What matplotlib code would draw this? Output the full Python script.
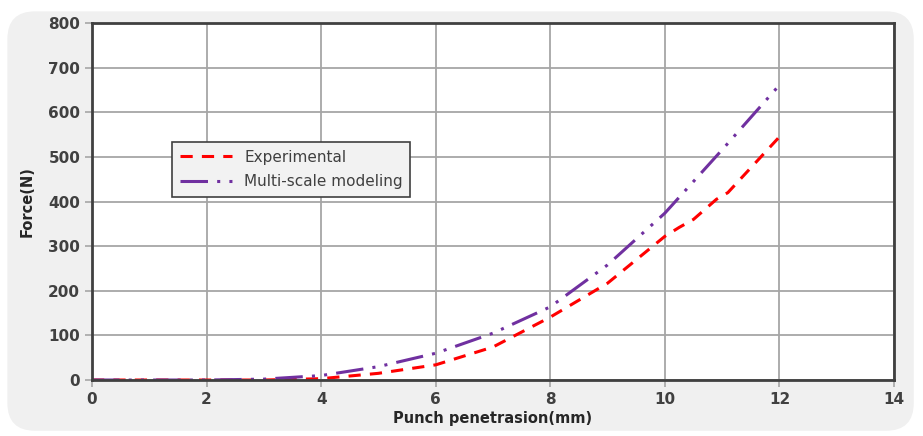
import matplotlib.pyplot as plt
from matplotlib.patches import FancyBboxPatch
import numpy as np

# data
x_exp = [0, 1, 2, 3, 4, 5, 6, 7, 8, 9, 10, 10.25, 10.5, 10.9, 11.1, 12]
f_exp = [0, 0, 0, 0, 3, 15, 34, 74, 141, 217, 322, 342, 360, 405, 420, 545]
x_mod = [0, 1, 2, 3, 4, 5, 6, 7, 8, 9, 10, 11, 12]
f_mod = [0, 0, 0, 2, 10, 30, 60, 105, 164, 258, 374, 516, 661]

x_ticks = np.arange(0, 15, 2)
y_ticks = np.arange(0, 801, 100)

fig = plt.figure(figsize=(9.23, 4.36), dpi=100)
fig.patch.set_facecolor('white')

# rounded grey panel behind the chart
panel = FancyBboxPatch((0.008, 0.012), 0.982, 0.962, boxstyle='round,pad=0,rounding_size=0.03',
                       transform=fig.transFigure, facecolor='#f0f0f0', edgecolor='none',
                       zorder=-10, mutation_aspect=923 / 436)
fig.patches.append(panel)

ax = fig.add_axes([0.0997, 0.1284, 0.8689, 0.8188])
ax.set_facecolor('white')

ax.plot(x_exp, f_exp, color='#ff0000', lw=2.2, dashes=(4, 3), label='Experimental')
ax.plot(x_mod, f_mod, color='#7030a0', lw=2.2, dashes=(9, 3, 1, 3, 1, 3), label='Multi-scale modeling')

ax.set_xlim(0, 14)
ax.set_ylim(0, 800)
ax.set_xticks(x_ticks)
ax.set_yticks(y_ticks)
ax.grid(True, color='#a6a6a6', lw=1.3)
ax.set_axisbelow(True)

for s in ax.spines.values():
    s.set_color('#404040')
    s.set_linewidth(2)

ax.tick_params(axis='both', colors='#a6a6a6', labelcolor='#404040', labelsize=11, length=5, width=1.2)
for lab in ax.get_xticklabels() + ax.get_yticklabels():
    lab.set_fontweight('bold')

ax.set_xlabel('Punch penetrasion(mm)', fontsize=10.5, fontweight='bold', color='#262626', labelpad=3)
ax.set_ylabel('Force(N)', fontsize=10.5, fontweight='bold', color='#262626', labelpad=10)

leg = ax.legend(loc='upper left', bbox_to_anchor=(0.1, 0.667), borderaxespad=0, fontsize=11,
                frameon=True, fancybox=False, handlelength=3.4, borderpad=0.5, labelspacing=0.65)
leg.get_frame().set_facecolor('#f2f2f2')
leg.get_frame().set_edgecolor('#404040')
leg.get_frame().set_linewidth(1.2)
leg.get_frame().set_alpha(1)
for t in leg.get_texts():
    t.set_color('#404040')

fig.savefig('out.png', dpi=100)
